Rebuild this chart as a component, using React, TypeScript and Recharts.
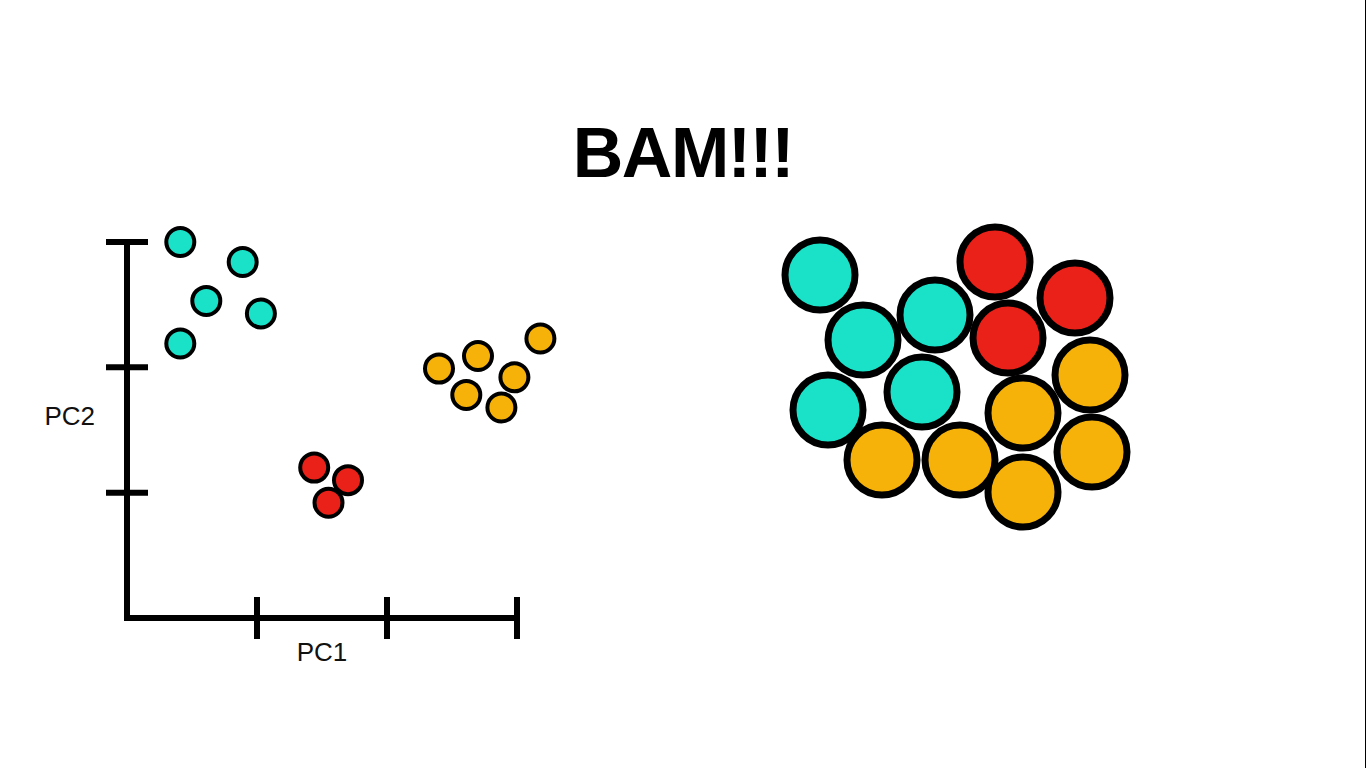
import {
  ReferenceLine,
  Scatter,
  ScatterChart,
  XAxis,
  YAxis,
} from 'recharts';

const CYAN = '#1ae2c8';
const RED = '#ea2118';
const ORANGE = '#f6b209';
const FONT = '"Liberation Sans", Arial, Helvetica, sans-serif';

// left plot: PCA scores
const pcTicks = [1, 2, 3];
const groupA = [
  { x: 0.41, y: 3.0 },
  { x: 0.89, y: 2.84 },
  { x: 0.61, y: 2.53 },
  { x: 1.03, y: 2.43 },
  { x: 0.41, y: 2.19 },
];
const groupB = [
  { x: 1.44, y: 1.2 },
  { x: 1.7, y: 1.1 },
  { x: 1.55, y: 0.92 },
];
const groupC = [
  { x: 2.4, y: 1.99 },
  { x: 2.7, y: 2.09 },
  { x: 3.18, y: 2.23 },
  { x: 2.98, y: 1.92 },
  { x: 2.61, y: 1.78 },
  { x: 2.88, y: 1.68 },
];

// right side: the same samples piled up
const pileA = [
  { x: 6.0, y: 27.5 },
  { x: 10.3, y: 21.0 },
  { x: 17.5, y: 23.5 },
  { x: 16.2, y: 15.8 },
  { x: 6.8, y: 14.0 },
];
const pileB = [
  { x: 23.5, y: 28.8 },
  { x: 31.5, y: 25.2 },
  { x: 24.8, y: 21.2 },
];
const pileC = [
  { x: 33.0, y: 17.5 },
  { x: 26.3, y: 13.7 },
  { x: 33.2, y: 9.8 },
  { x: 12.2, y: 9.0 },
  { x: 20.0, y: 9.0 },
  { x: 26.3, y: 5.8 },
];

const dot = (color: string, r: number, sw: number) => (props: any) => (
  <circle cx={props.cx} cy={props.cy} r={r} fill={color} stroke="#000" strokeWidth={sw} />
);

const XTick = (props: any) => (
  <line x1={props.x} x2={props.x} y1={props.y - 21} y2={props.y + 21} stroke="#000" strokeWidth={6} />
);

const YTick = (props: any) => (
  <line x1={props.x - 21} x2={props.x + 21} y1={props.y} y2={props.y} stroke="#000" strokeWidth={6} />
);

const Pc2Label = (props: any) => {
  const { x, y, width, height } = props.viewBox;
  return (
    <text
      x={x + width - 32}
      y={y + height * 0.463}
      textAnchor="end"
      dominantBaseline="central"
      fontSize={26}
      fill="#111"
      fontFamily={FONT}
    >
      PC2
    </text>
  );
};

const App = () => {
  return (
    <div
      style={{
        position: 'fixed',
        left: 0,
        top: 0,
        width: 1366,
        height: 768,
        background: '#fff',
        fontFamily: FONT,
      }}
    >
      <div
        style={{
          position: 'absolute',
          top: 118,
          left: 0,
          width: 1366,
          textAlign: 'center',
          fontSize: 70,
          lineHeight: '70px',
          fontWeight: 'bold',
          letterSpacing: -1.5,
          color: '#000',
        }}
      >
        BAM!!!
      </div>

      <div style={{ position: 'absolute', left: 0, top: 0 }}>
        <ScatterChart
          width={600}
          height={700}
          margin={{ top: 242, right: 44, bottom: 52, left: 87 }}
        >
          <XAxis
            type="number"
            dataKey="x"
            domain={[0, 3.3]}
            ticks={pcTicks}
            axisLine={false}
            tickLine={false}
            tickSize={0}
            tickMargin={0}
            tick={XTick}
          />
          <YAxis
            type="number"
            dataKey="y"
            domain={[0, 3]}
            ticks={pcTicks}
            width={40}
            axisLine={{ stroke: '#000', strokeWidth: 6, strokeLinecap: 'square' }}
            tickLine={false}
            tickSize={0}
            tickMargin={0}
            tick={YTick}
            label={{ content: Pc2Label }}
          />
          <ReferenceLine
            segment={[
              { x: 0, y: 0 },
              { x: 3, y: 0 },
            ]}
            stroke="#000"
            strokeWidth={6}
            strokeLinecap="square"
            label={{
              value: 'PC1',
              position: 'bottom',
              offset: 25,
              fontSize: 26,
              fill: '#111',
              fontFamily: FONT,
            }}
          />
          <Scatter data={groupA} fill={CYAN} shape={dot(CYAN, 14, 4)} isAnimationActive={false} />
          <Scatter data={groupB} fill={RED} shape={dot(RED, 14, 4)} isAnimationActive={false} />
          <Scatter data={groupC} fill={ORANGE} shape={dot(ORANGE, 14, 4)} isAnimationActive={false} />
        </ScatterChart>
      </div>

      <div style={{ position: 'absolute', left: 760, top: 210 }}>
        <ScatterChart width={400} height={340} margin={{ top: 0, right: 0, bottom: 0, left: 0 }}>
          <XAxis type="number" dataKey="x" domain={[0, 40]} hide />
          <YAxis type="number" dataKey="y" domain={[0, 34]} hide />
          <Scatter data={pileA} fill={CYAN} shape={dot(CYAN, 35, 7)} isAnimationActive={false} />
          <Scatter data={pileB} fill={RED} shape={dot(RED, 35, 7)} isAnimationActive={false} />
          <Scatter data={pileC} fill={ORANGE} shape={dot(ORANGE, 35, 7)} isAnimationActive={false} />
        </ScatterChart>
      </div>

      <div style={{ position: 'absolute', left: 1365, top: 0, width: 1, height: 768, background: '#000' }} />
    </div>
  );
};

export default App;
